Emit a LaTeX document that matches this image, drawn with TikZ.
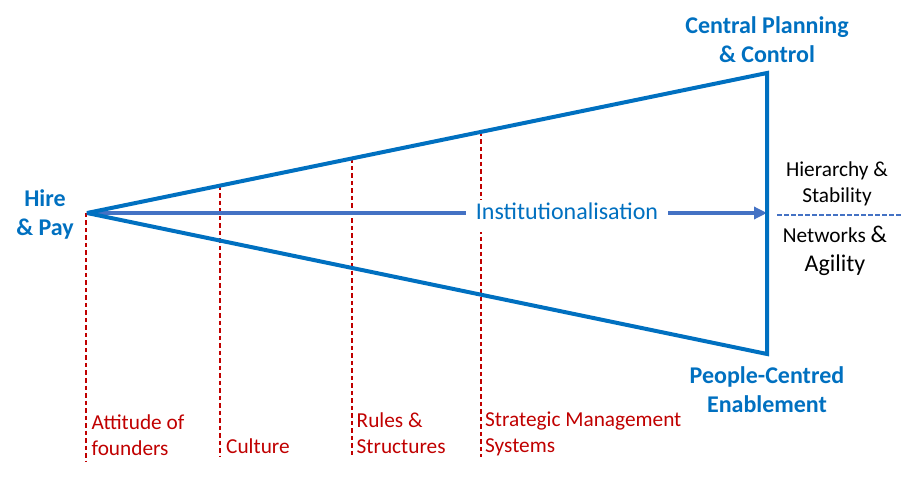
\documentclass[tikz,border=0pt]{standalone}
\usepackage{fontspec}
\setmainfont{Carlito}
\usetikzlibrary{arrows.meta}
\definecolor{tblue}{HTML}{0070C0}
\definecolor{ablue}{HTML}{4472C4}
\definecolor{dred}{HTML}{C00000}
\begin{document}
\begin{tikzpicture}[x=1pt,y=-1pt,
  edge/.style={draw=tblue, line width=4pt, line join=miter, miter limit=3},
  guide/.style={draw=dred, line width=1.2pt, dash pattern=on 4.5pt off 3pt},
  flow/.style={draw=ablue, line width=4pt, -{Triangle[length=13pt,width=12pt]}},
  split/.style={draw=ablue, line width=1.2pt, dash pattern=on 4.5pt off 2.5pt},
  bigbold/.style={font=\fontsize{24}{29}\selectfont\bfseries, text=tblue, align=center, inner sep=0pt, anchor=base},
  redlabel/.style={font=\fontsize{21.3}{26}\selectfont, text=dred, align=left, inner sep=0pt, anchor=base west},
  sidelabel/.style={font=\fontsize{21.3}{26}\selectfont, text=black, align=center, inner sep=0pt, anchor=base}]
\useasboundingbox (0,0) rectangle (914,489);
% corners of the triangle
\coordinate (apex) at (87,213);
\coordinate (top) at (767,73);
\coordinate (bot) at (767,354);
% red guides
\coordinate (g1t) at (86,213);   \coordinate (g1b) at (86,462);
\coordinate (g2t) at (220,185.6); \coordinate (g2b) at (220,457);
\coordinate (g3t) at (352,158.4); \coordinate (g3b) at (352,457);
\coordinate (g4t) at (481,131.9); \coordinate (g4b) at (481,457);
\draw[guide] (g1t) -- (g1b);
\draw[guide] (g2t) -- (g2b);
\draw[guide] (g3t) -- (g3b);
\draw[guide] (g4t) -- (g4b);
% main arrow
\coordinate (arrS) at (96,213);
\coordinate (arrE) at (767,213);
\draw[flow] (arrS) -- (arrE);
\node[fill=white, inner xsep=10pt, inner ysep=0pt, text height=20pt, text depth=12pt,
      anchor=base, font=\fontsize{24}{29}\selectfont, text=tblue] (inst) at (567,220) {Institutionalisation};
% triangle
\draw[edge] (apex) -- (top) -- (bot) -- cycle;
% dashed split line
\coordinate (sS) at (777,215);
\coordinate (sE) at (903,215);
\draw[split] (sS) -- (sE);
% labels (base = baseline of the last line)
\node[bigbold] (hire) at (45,236) {Hire\\\& Pay};
\node[bigbold] (central) at (767,63) {Central Planning\\\& Control};
\node[bigbold] (people) at (767,413) {People-Centred\\Enablement};
\node[sidelabel] (hier) at (837,203) {Hierarchy \&\\Stability};
\node[sidelabel] (netw) at (835,272) {Networks {\fontsize{24}{29}\selectfont\&}\\[3pt]{\fontsize{24}{29}\selectfont Agility}};
\node[redlabel] (att) at (91.5,455) {Attitude of\\founders};
\node[redlabel] (cult) at (226,453) {Culture};
\node[redlabel] (rules) at (356.5,453) {Rules \&\\Structures};
\node[redlabel] (strat) at (485,452) {Strategic Management\\Systems};
\end{tikzpicture}
\end{document}
